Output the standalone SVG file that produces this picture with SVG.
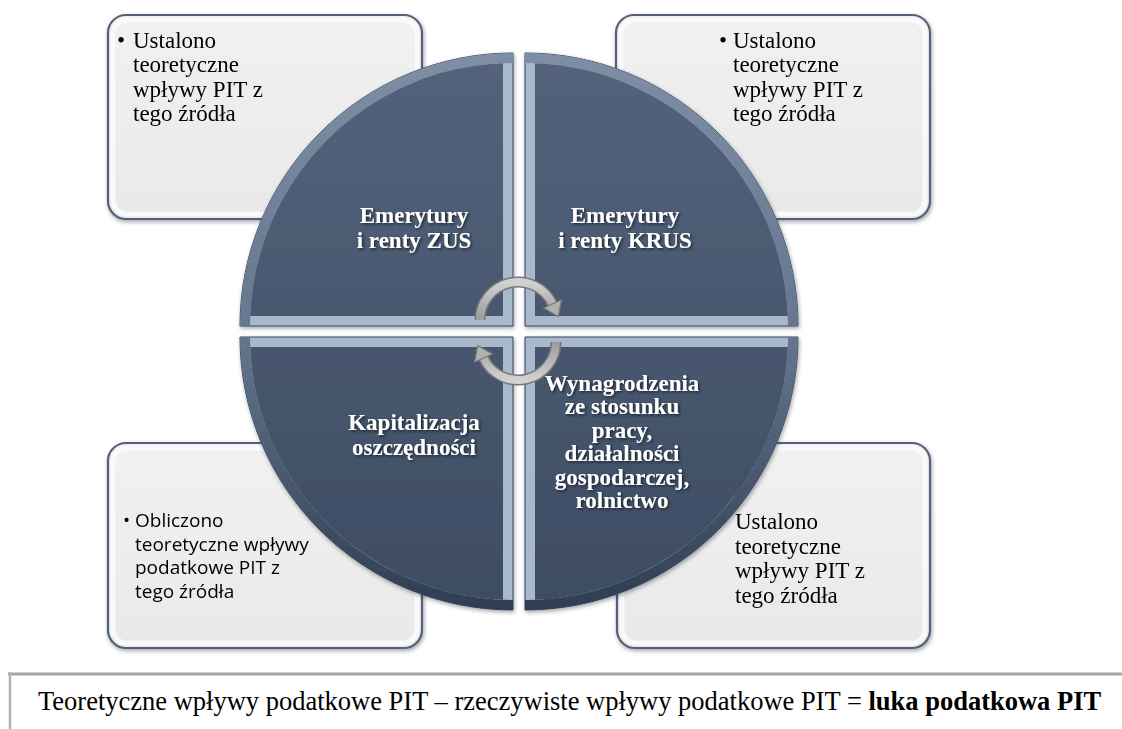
<svg xmlns="http://www.w3.org/2000/svg" width="1122" height="729" viewBox="0 0 1122 729">
<defs>
<style>
.box{fill:url(#boxFill);stroke:#53627a;stroke-width:2.2}
.boxGlow{fill:none;stroke:#fbfbfb;stroke-width:5;opacity:.85}
.bt{font-family:"Liberation Serif","Times New Roman",serif;font-size:23px;fill:#000}
.bs{font-family:"Open Sans","Liberation Sans",sans-serif;font-size:19px;fill:#000}
.qOuter{fill:#a9b9cc;stroke:#34435a;stroke-width:1}
.qArc{fill:none;stroke:url(#arcGrad);stroke-width:10}
.qInner{fill:url(#qFill)}
.ql{font-family:"Liberation Serif","Times New Roman",serif;font-size:23px;font-weight:bold;fill:#fff;text-anchor:middle}
.arrO{fill:none;stroke:#767676;stroke-width:11}
.arrI{fill:none;stroke:url(#arrGrad);stroke-width:8}
.arrH{fill:#b0b0b0;stroke:#767676;stroke-width:1.2;stroke-linejoin:round}
.ft{font-family:"Liberation Serif","Times New Roman",serif;font-size:26.5px;fill:#000}
</style>
<linearGradient id="boxFill" x1="0" y1="0" x2="0" y2="1">
<stop offset="0" stop-color="#f1f1f1"/>
<stop offset="1" stop-color="#e9e9e9"/>
</linearGradient>
<linearGradient id="qFill" gradientUnits="userSpaceOnUse" x1="0" y1="53" x2="0" y2="610">
<stop offset="0" stop-color="#53637b"/>
<stop offset="1" stop-color="#3d4c63"/>
</linearGradient>
<linearGradient id="arcGrad" gradientUnits="userSpaceOnUse" x1="0" y1="53" x2="0" y2="610">
<stop offset="0" stop-color="#7d8ea5"/>
<stop offset="0.5" stop-color="#65778f"/>
<stop offset="1" stop-color="#2f3d51"/>
</linearGradient>
<linearGradient id="arrGrad" x1="0" y1="0" x2="0" y2="1">
<stop offset="0" stop-color="#d2d2d2"/>
<stop offset="1" stop-color="#9a9a9a"/>
</linearGradient>
<filter id="shadow" x="-10%" y="-10%" width="120%" height="120%">
<feDropShadow dx="1" dy="2" stdDeviation="2" flood-color="#000" flood-opacity="0.35"/>
</filter>
<filter id="tshadow" x="-10%" y="-20%" width="120%" height="140%">
<feDropShadow dx="1.5" dy="1.5" stdDeviation="0.8" flood-color="#151c28" flood-opacity="0.85"/>
</filter>
</defs>
<rect width="1122" height="729" fill="#fff"/>

<g id="box-tl" filter="url(#shadow)">
<rect class="box" x="108" y="15" width="314" height="204" rx="18"/>
<rect class="boxGlow" x="113" y="20" width="304" height="194" rx="14"/>
<text class="bt" x="117" y="47.5">•</text>
<text class="bt"><tspan x="133" y="47.5">Ustalono</tspan><tspan x="133" y="72">teoretyczne</tspan><tspan x="133" y="96.5">wpływy PIT z</tspan><tspan x="133" y="121">tego źródła</tspan></text>
</g>
<g id="box-tr" filter="url(#shadow)">
<rect class="box" x="616" y="15" width="314" height="204" rx="18"/>
<rect class="boxGlow" x="621" y="20" width="304" height="194" rx="14"/>
<text class="bt" x="719" y="47.5">•</text>
<text class="bt"><tspan x="733" y="47.5">Ustalono</tspan><tspan x="733" y="72">teoretyczne</tspan><tspan x="733" y="96.5">wpływy PIT z</tspan><tspan x="733" y="121">tego źródła</tspan></text>
</g>
<g id="box-bl" filter="url(#shadow)">
<rect class="box" x="108" y="443" width="314" height="205" rx="18"/>
<rect class="boxGlow" x="113" y="448" width="304" height="195" rx="14"/>
<text class="bs" x="123" y="527">•</text>
<text class="bs"><tspan x="135" y="527">Obliczono</tspan><tspan x="135" y="550.5">teoretyczne wpływy</tspan><tspan x="135" y="574">podatkowe PIT z</tspan><tspan x="135" y="597.5">tego źródła</tspan></text>
</g>
<g id="box-br" filter="url(#shadow)">
<rect class="box" x="617" y="443" width="313" height="205" rx="18"/>
<rect class="boxGlow" x="622" y="448" width="303" height="195" rx="14"/>
<text class="bt"><tspan x="735" y="529">Ustalono</tspan><tspan x="735" y="553.5">teoretyczne</tspan><tspan x="735" y="578">wpływy PIT z</tspan><tspan x="735" y="602.5">tego źródła</tspan></text>
</g>

<g id="circle" filter="url(#shadow)">
<g id="q-tl">
<path class="qOuter" d="M513,326 L513,53 A273,273 0 0 0 240,326 Z"/>
<path class="qArc" d="M513,58 A268,268 0 0 0 245,326"/>
<path class="qInner" d="M503,316 L503,63.19 A263,263 0 0 0 250.19,316 Z"/>
<text class="ql" filter="url(#tshadow)"><tspan x="414" y="223">Emerytury</tspan><tspan x="414" y="248">i renty ZUS</tspan></text>
</g>
<g id="q-tr">
<path class="qOuter" d="M525,326 L525,53 A273,273 0 0 1 798,326 Z"/>
<path class="qArc" d="M525,58 A268,268 0 0 1 793,326"/>
<path class="qInner" d="M535,316 L535,63.19 A263,263 0 0 1 787.81,316 Z"/>
<text class="ql" filter="url(#tshadow)"><tspan x="625" y="223">Emerytury</tspan><tspan x="625" y="248">i renty KRUS</tspan></text>
</g>
<g id="q-bl">
<path class="qOuter" d="M513,337 L240,337 A273,273 0 0 0 513,610 Z"/>
<path class="qArc" d="M245,337 A268,268 0 0 0 513,605"/>
<path class="qInner" d="M503,347 L250.19,347 A263,263 0 0 0 503,599.81 Z"/>
<text class="ql" filter="url(#tshadow)"><tspan x="414" y="430">Kapitalizacja</tspan><tspan x="414" y="455">oszczędności</tspan></text>
</g>
<g id="q-br">
<path class="qOuter" d="M525,337 L798,337 A273,273 0 0 1 525,610 Z"/>
<path class="qArc" d="M793,337 A268,268 0 0 1 525,605"/>
<path class="qInner" d="M535,347 L787.81,347 A263,263 0 0 1 535,599.81 Z"/>
<text class="ql" filter="url(#tshadow)"><tspan x="622" y="391">Wynagrodzenia</tspan><tspan x="622" y="414.4">ze stosunku</tspan><tspan x="622" y="437.8">pracy,</tspan><tspan x="622" y="461.2">działalności</tspan><tspan x="622" y="484.6">gospodarczej,</tspan><tspan x="622" y="508">rolnictwo</tspan></text>
</g>
</g>

<g id="connectors">
<g id="arrow-top">
<path class="arrO" d="M480,320 A38,38 0 0 1 552.4,303.9"/>
<path class="arrI" d="M480,320 A38,38 0 0 1 552.4,303.9"/>
<polygon class="arrH" points="543.5,308 561.5,299.7 558.3,316.6"/>
</g>
<g id="arrow-bottom" transform="rotate(180 518 331)">
<path class="arrO" d="M480,320 A38,38 0 0 1 552.4,303.9"/>
<path class="arrI" d="M480,320 A38,38 0 0 1 552.4,303.9"/>
<polygon class="arrH" points="543.5,308 561.5,299.7 558.3,316.6"/>
</g>
</g>

<g id="formula">
<line x1="8" y1="674" x2="1122" y2="674" stroke="#a6a6a6" stroke-width="3"/>
<line x1="10" y1="672.5" x2="10" y2="729" stroke="#b3b3b3" stroke-width="2.5"/>
<text class="ft" x="38" y="710">Teoretyczne wpływy podatkowe PIT – rzeczywiste wpływy podatkowe PIT = <tspan font-weight="bold">luka podatkowa PIT</tspan></text>
</g>
</svg>
